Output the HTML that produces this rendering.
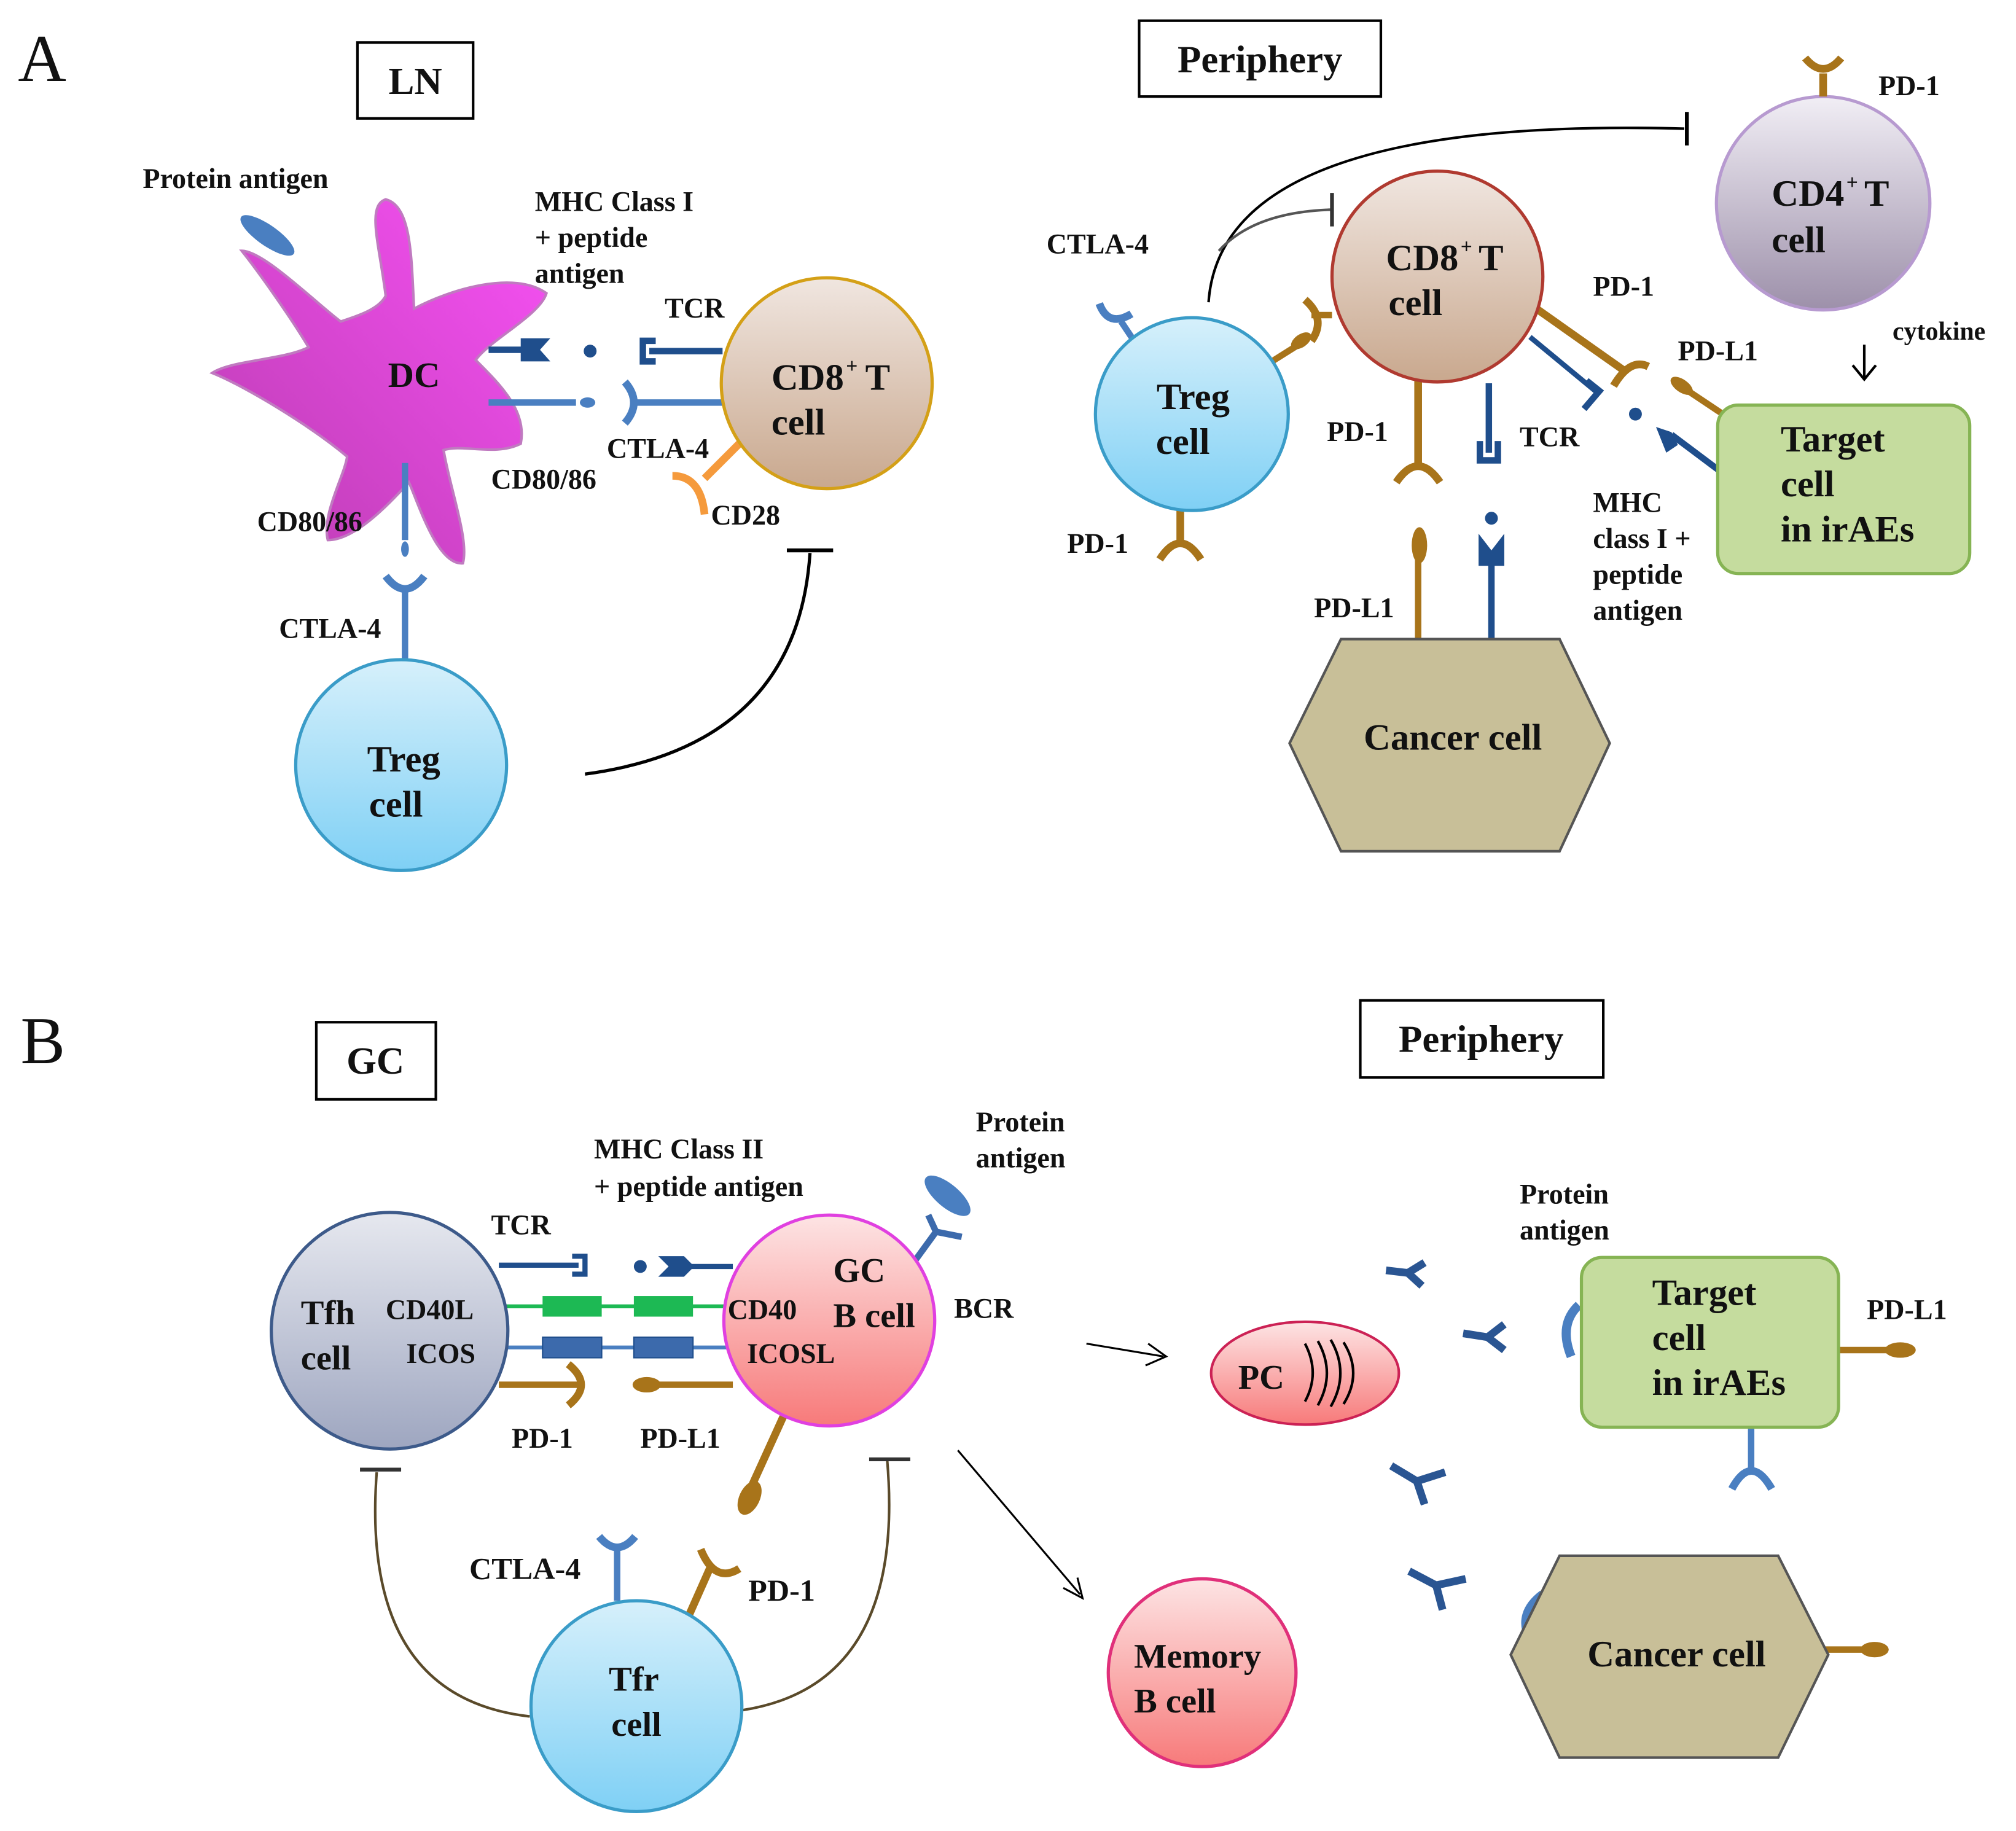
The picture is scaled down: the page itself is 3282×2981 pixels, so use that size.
<!DOCTYPE html>
<html><head><meta charset="utf-8"><style>
html,body{margin:0;padding:0;background:#fff}
svg{display:block}
text{font-family:"Liberation Serif",serif;font-weight:bold;fill:#111}
</style></head><body>
<svg width="3282" height="2981" viewBox="0 0 1568 1424" xmlns="http://www.w3.org/2000/svg">
<defs>
<linearGradient id="beige" x1="0" y1="0" x2="0" y2="1"><stop offset="0" stop-color="#f0e6e0"/><stop offset="1" stop-color="#c9a88e"/></linearGradient>
<linearGradient id="blue" x1="0" y1="0" x2="0" y2="1"><stop offset="0" stop-color="#d6f0fb"/><stop offset="1" stop-color="#7fd0f5"/></linearGradient>
<linearGradient id="purp" x1="0" y1="0" x2="0" y2="1"><stop offset="0" stop-color="#f1eef5"/><stop offset="1" stop-color="#9d90aa"/></linearGradient>
<linearGradient id="gray" x1="0" y1="0" x2="0" y2="1"><stop offset="0" stop-color="#e6e8ef"/><stop offset="1" stop-color="#9ea6c0"/></linearGradient>
<linearGradient id="pink" x1="0" y1="0" x2="0" y2="1"><stop offset="0" stop-color="#fde4e4"/><stop offset="1" stop-color="#f77a7a"/></linearGradient>
<linearGradient id="mag" x1="1" y1="0" x2="0" y2="1"><stop offset="0" stop-color="#f851f5"/><stop offset="1" stop-color="#b93cb0"/></linearGradient>
</defs>

<!-- ===== A ===== -->
<text x="14" y="63" font-size="52" style="font-weight:normal">A</text>
<rect x="278" y="33" width="90" height="59" fill="#fff" stroke="#000" stroke-width="2"/>
<text x="323" y="73" font-size="30" text-anchor="middle">LN</text>
<rect x="886" y="16" width="188" height="59" fill="#fff" stroke="#000" stroke-width="2"/>
<text x="980" y="56" font-size="30" text-anchor="middle">Periphery</text>

<!-- DC -->
<path d="M300,230 C295,190 285,160 300,155 C320,160 320,200 322,240 C350,225 400,210 425,228 C420,245 380,265 370,280 C390,300 410,320 405,345 C385,355 360,345 345,350 C350,380 365,420 360,438 C340,440 325,390 318,375 C300,395 275,420 255,420 C250,400 268,370 270,355 C240,330 190,300 165,290 C180,280 220,280 240,270 C225,245 200,210 188,195 C205,195 245,235 265,250 C280,245 295,240 300,230 Z" fill="url(#mag)" stroke="#c07ac0" stroke-width="2"/>
<text x="322" y="301" font-size="28" text-anchor="middle">DC</text>
<ellipse cx="208" cy="183" rx="25" ry="8" transform="rotate(35 208 183)" fill="#4a7fc1"/>
<text x="111" y="146" font-size="22">Protein antigen</text>
<text x="416" y="164" font-size="22">MHC Class I</text>
<text x="416" y="192" font-size="22">+ peptide</text>
<text x="416" y="220" font-size="22">antigen</text>

<!-- TCR interaction -->
<line x1="380" y1="272" x2="410" y2="272" stroke="#1f4e8c" stroke-width="5"/>
<path d="M405,263 L428,263 L420,272 L428,281 L405,281 Z" fill="#1f4e8c"/>
<circle cx="459" cy="273" r="5" fill="#1f4e8c"/>
<path d="M510,265 L500,265 L500,281 L510,281" fill="none" stroke="#1f4e8c" stroke-width="5"/>
<line x1="505" y1="273" x2="562" y2="273" stroke="#1f4e8c" stroke-width="5"/>
<text x="517" y="247" font-size="22">TCR</text>
<!-- CD80/CTLA4 -->
<line x1="380" y1="313" x2="448" y2="313" stroke="#4a7fc1" stroke-width="5"/>
<ellipse cx="457" cy="313" rx="6" ry="4" fill="#4a7fc1"/>
<path d="M486,297 Q500,313 486,329" fill="none" stroke="#4a7fc1" stroke-width="6"/>
<line x1="495" y1="313" x2="562" y2="313" stroke="#4a7fc1" stroke-width="5"/>
<text x="472" y="356" font-size="22">CTLA-4</text>
<text x="382" y="380" font-size="22">CD80/86</text>
<!-- CD28 -->
<line x1="575" y1="345" x2="548" y2="372" stroke="#f59a3c" stroke-width="6"/>
<path d="M523,370 Q545,370 548,400" fill="none" stroke="#f59a3c" stroke-width="6"/>
<text x="553" y="408" font-size="22">CD28</text>

<circle cx="643" cy="298" r="82" fill="url(#beige)" stroke="#d4a017" stroke-width="2.5"/>
<text x="600" y="303" font-size="29">CD8</text><text x="658" y="290" font-size="16">+</text><text x="673" y="303" font-size="29">T</text>
<text x="600" y="338" font-size="29">cell</text>

<!-- DC to Treg -->
<line x1="315" y1="360" x2="315" y2="420" stroke="#4a7fc1" stroke-width="5"/>
<ellipse cx="315" cy="427" rx="3" ry="6" fill="#4a7fc1"/>
<path d="M300,448 Q315,468 330,448" fill="none" stroke="#4a7fc1" stroke-width="6"/>
<line x1="315" y1="460" x2="315" y2="515" stroke="#4a7fc1" stroke-width="5"/>
<text x="200" y="413" font-size="22">CD80/86</text>
<text x="217" y="496" font-size="22">CTLA-4</text>
<circle cx="312" cy="595" r="82" fill="url(#blue)" stroke="#3a9cc8" stroke-width="2.5"/>
<text x="314" y="600" font-size="29" text-anchor="middle">Treg</text>
<text x="308" y="635" font-size="29" text-anchor="middle">cell</text>
<path d="M455,602 Q620,580 630,430" fill="none" stroke="#000" stroke-width="2.5"/>
<line x1="612" y1="428" x2="648" y2="428" stroke="#000" stroke-width="3"/>

<!-- Periphery A -->
<path d="M940,235 Q950,90 1310,100" fill="none" stroke="#000" stroke-width="2"/>
<line x1="1312" y1="87" x2="1312" y2="113" stroke="#000" stroke-width="3"/>
<path d="M948,195 Q975,165 1035,163" fill="none" stroke="#555" stroke-width="2"/>
<line x1="1036" y1="150" x2="1036" y2="176" stroke="#333" stroke-width="3"/>

<circle cx="1418" cy="158" r="83" fill="url(#purp)" stroke="#b79ad0" stroke-width="2.5"/>
<line x1="1418" y1="75" x2="1418" y2="57" stroke="#a8741a" stroke-width="6"/>
<path d="M1404,45 Q1418,62 1432,45" fill="none" stroke="#a8741a" stroke-width="6"/>
<text x="1461" y="74" font-size="22">PD-1</text>
<text x="1378" y="160" font-size="29">CD4</text><text x="1436" y="147" font-size="16">+</text><text x="1450" y="160" font-size="29">T</text>
<text x="1378" y="196" font-size="29">cell</text>
<text x="1472" y="264" font-size="20">cytokine</text>
<line x1="1450" y1="268" x2="1450" y2="294" stroke="#000" stroke-width="2"/>
<path d="M1441,284 L1450,295 L1459,284" fill="none" stroke="#000" stroke-width="2"/>

<!-- CD8 right -->
<line x1="1190" y1="262" x2="1242" y2="305" stroke="#1f4e8c" stroke-width="4"/>
<path d="M1232,318 L1244,304 L1234,296" fill="none" stroke="#1f4e8c" stroke-width="5"/>
<line x1="1195" y1="240" x2="1263" y2="288" stroke="#a8741a" stroke-width="6"/>
<path d="M1255,300 Q1268,278 1282,285" fill="none" stroke="#a8741a" stroke-width="6"/>
<line x1="1103" y1="295" x2="1103" y2="360" stroke="#a8741a" stroke-width="6"/>
<path d="M1086,375 Q1103,350 1120,375" fill="none" stroke="#a8741a" stroke-width="6"/>
<line x1="1158" y1="298" x2="1158" y2="352" stroke="#1f4e8c" stroke-width="5"/>
<path d="M1151,343 L1151,358 L1165,358 L1165,343" fill="none" stroke="#1f4e8c" stroke-width="5"/>
<line x1="1036" y1="245" x2="1020" y2="245" stroke="#a8741a" stroke-width="5"/>
<path d="M1015,233 Q1032,248 1020,265" fill="none" stroke="#a8741a" stroke-width="6"/>
<circle cx="1118" cy="215" r="82" fill="url(#beige)" stroke="#b03a30" stroke-width="2.5"/>
<text x="1078" y="210" font-size="29">CD8</text><text x="1136" y="197" font-size="16">+</text><text x="1150" y="210" font-size="29">T</text>
<text x="1080" y="245" font-size="29">cell</text>
<text x="1239" y="230" font-size="22">PD-1</text>
<text x="1305" y="280" font-size="22">PD-L1</text>
<text x="1032" y="343" font-size="22">PD-1</text>
<text x="1182" y="347" font-size="22">TCR</text>
<text x="1239" y="398" font-size="22">MHC</text>
<text x="1239" y="426" font-size="22">class I +</text>
<text x="1239" y="454" font-size="22">peptide</text>
<text x="1239" y="482" font-size="22">antigen</text>

<!-- target A -->
<line x1="1340" y1="322" x2="1310" y2="302" stroke="#a8741a" stroke-width="5"/>
<ellipse cx="1308" cy="300" rx="10" ry="5" transform="rotate(35 1308 300)" fill="#a8741a"/>
<line x1="1340" y1="368" x2="1300" y2="338" stroke="#1f4e8c" stroke-width="5"/>
<path d="M1288,332 L1300,336 L1305,346 L1296,352 Z" fill="#1f4e8c"/>
<circle cx="1272" cy="322" r="5" fill="#1f4e8c"/>
<rect x="1336" y="315" width="196" height="131" rx="16" fill="#c5dc9e" stroke="#86b454" stroke-width="2.5"/>
<text x="1385" y="351" font-size="29">Target</text>
<text x="1385" y="386" font-size="29">cell</text>
<text x="1385" y="421" font-size="29">in irAEs</text>

<!-- Treg right -->
<line x1="983" y1="285" x2="1010" y2="268" stroke="#a8741a" stroke-width="5"/>
<ellipse cx="1012" cy="265" rx="9" ry="5" transform="rotate(-35 1012 265)" fill="#a8741a"/>
<line x1="882" y1="265" x2="872" y2="250" stroke="#4a7fc1" stroke-width="5"/>
<path d="M855,236 Q862,255 880,244" fill="none" stroke="#4a7fc1" stroke-width="6"/>
<line x1="918" y1="396" x2="918" y2="425" stroke="#a8741a" stroke-width="6"/>
<path d="M902,435 Q918,410 934,435" fill="none" stroke="#a8741a" stroke-width="6"/>
<circle cx="927" cy="322" r="75" fill="url(#blue)" stroke="#3a9cc8" stroke-width="2.5"/>
<text x="928" y="318" font-size="29" text-anchor="middle">Treg</text>
<text x="920" y="353" font-size="29" text-anchor="middle">cell</text>
<text x="814" y="197" font-size="22">CTLA-4</text>
<text x="830" y="430" font-size="22">PD-1</text>

<!-- cancer A -->
<line x1="1103" y1="430" x2="1103" y2="497" stroke="#a8741a" stroke-width="5"/>
<ellipse cx="1104" cy="424" rx="6" ry="14" fill="#a8741a"/>
<line x1="1160" y1="430" x2="1160" y2="497" stroke="#1f4e8c" stroke-width="5"/>
<path d="M1150,415 L1160,428 L1170,415 L1170,440 L1150,440 Z" fill="#1f4e8c"/>
<circle cx="1160" cy="403" r="5" fill="#1f4e8c"/>
<text x="1022" y="480" font-size="22">PD-L1</text>
<polygon points="1003,578 1043,497 1213,497 1252,578 1213,662 1043,662" fill="#c8bf98" stroke="#555" stroke-width="2"/>
<text x="1130" y="583" font-size="29" text-anchor="middle">Cancer cell</text>

<!-- ===== B ===== -->
<text x="16" y="827" font-size="52" style="font-weight:normal">B</text>
<rect x="246" y="795" width="93" height="60" fill="#fff" stroke="#000" stroke-width="2"/>
<text x="292" y="835" font-size="30" text-anchor="middle">GC</text>
<rect x="1058" y="778" width="189" height="60" fill="#fff" stroke="#000" stroke-width="2"/>
<text x="1152" y="818" font-size="30" text-anchor="middle">Periphery</text>

<text x="462" y="901" font-size="22">MHC Class II</text>
<text x="462" y="930" font-size="22">+ peptide antigen</text>
<text x="759" y="880" font-size="22">Protein</text>
<text x="759" y="908" font-size="22">antigen</text>
<text x="382" y="960" font-size="22">TCR</text>

<line x1="388" y1="984" x2="450" y2="984" stroke="#1f4e8c" stroke-width="4"/>
<path d="M445,977 L455,977 L455,991 L445,991" fill="none" stroke="#1f4e8c" stroke-width="4"/>
<circle cx="498" cy="985" r="5" fill="#1f4e8c"/>
<path d="M512,977 L532,977 L540,985 L532,993 L512,993 L520,985 Z" fill="#1f4e8c"/>
<line x1="536" y1="985" x2="570" y2="985" stroke="#1f4e8c" stroke-width="4"/>
<line x1="392" y1="1016" x2="570" y2="1016" stroke="#1db954" stroke-width="3"/>
<rect x="422" y="1008" width="46" height="16" fill="#1db954"/>
<rect x="493" y="1008" width="46" height="16" fill="#1db954"/>
<line x1="392" y1="1048" x2="570" y2="1048" stroke="#4a7fc1" stroke-width="3"/>
<rect x="422" y="1040" width="46" height="16" fill="#3c6aac" stroke="#1f4e8c"/>
<rect x="493" y="1040" width="46" height="16" fill="#3c6aac" stroke="#1f4e8c"/>
<line x1="388" y1="1077" x2="452" y2="1077" stroke="#a8741a" stroke-width="5"/>
<path d="M442,1061 Q462,1077 442,1093" fill="none" stroke="#a8741a" stroke-width="6"/>
<ellipse cx="503" cy="1077" rx="11" ry="6" fill="#a8741a"/>
<line x1="510" y1="1077" x2="570" y2="1077" stroke="#a8741a" stroke-width="5"/>
<text x="398" y="1126" font-size="22">PD-1</text>
<text x="498" y="1126" font-size="22">PD-L1</text>

<circle cx="303" cy="1035" r="92" fill="url(#gray)" stroke="#3d5a8a" stroke-width="2.5"/>
<text x="234" y="1030" font-size="27">Tfh</text>
<text x="234" y="1065" font-size="27">cell</text>
<text x="300" y="1026" font-size="22">CD40L</text>
<text x="316" y="1060" font-size="22">ICOS</text>

<!-- BCR -->
<ellipse cx="737" cy="930" rx="22" ry="9" transform="rotate(40 737 930)" fill="#4a7fc1"/>
<line x1="712" y1="980" x2="728" y2="958" stroke="#3c6aac" stroke-width="5"/>
<line x1="728" y1="958" x2="722" y2="945" stroke="#3c6aac" stroke-width="5"/>
<line x1="728" y1="958" x2="748" y2="962" stroke="#3c6aac" stroke-width="5"/>
<text x="742" y="1025" font-size="22">BCR</text>
<line x1="610" y1="1100" x2="585" y2="1155" stroke="#a8741a" stroke-width="6"/>
<ellipse cx="583" cy="1165" rx="8" ry="14" transform="rotate(25 583 1165)" fill="#a8741a"/>
<circle cx="645" cy="1027" r="82" fill="url(#pink)" stroke="#e040e0" stroke-width="2.5"/>
<text x="648" y="997" font-size="27">GC</text>
<text x="648" y="1032" font-size="27">B cell</text>
<text x="566" y="1026" font-size="22">CD40</text>
<text x="581" y="1060" font-size="22">ICOSL</text>

<!-- Tfr -->
<line x1="480" y1="1245" x2="480" y2="1205" stroke="#4a7fc1" stroke-width="5"/>
<path d="M466,1195 Q480,1212 494,1195" fill="none" stroke="#4a7fc1" stroke-width="6"/>
<line x1="536" y1="1256" x2="552" y2="1220" stroke="#a8741a" stroke-width="6"/>
<path d="M545,1205 Q556,1232 575,1220" fill="none" stroke="#a8741a" stroke-width="6"/>
<text x="365" y="1228" font-size="24">CTLA-4</text>
<text x="582" y="1245" font-size="24">PD-1</text>
<path d="M293,1145 Q280,1320 412,1335" fill="none" stroke="#5a4a2a" stroke-width="2"/>
<line x1="280" y1="1143" x2="312" y2="1143" stroke="#333" stroke-width="3"/>
<path d="M578,1330 Q705,1310 690,1135" fill="none" stroke="#5a4a2a" stroke-width="2"/>
<line x1="676" y1="1135" x2="708" y2="1135" stroke="#333" stroke-width="3"/>
<circle cx="495" cy="1327" r="82" fill="url(#blue)" stroke="#3a9cc8" stroke-width="2.5"/>
<text x="493" y="1315" font-size="27" text-anchor="middle">Tfr</text>
<text x="495" y="1350" font-size="27" text-anchor="middle">cell</text>

<!-- arrows -->
<line x1="845" y1="1045" x2="905" y2="1055" stroke="#000" stroke-width="1.5"/>
<path d="M893,1045 L907,1055 L891,1062" fill="none" stroke="#000" stroke-width="1.5"/>
<line x1="745" y1="1128" x2="840" y2="1240" stroke="#000" stroke-width="1.5"/>
<path d="M827,1235 L842,1243 L838,1227" fill="none" stroke="#000" stroke-width="1.5"/>

<ellipse cx="1015" cy="1068" rx="73" ry="40" fill="url(#pink)" stroke="#cc2255" stroke-width="2"/>
<text x="963" y="1080" font-size="27">PC</text>
<path d="M1015,1045 Q1027,1068 1015,1090 M1025,1043 Q1039,1068 1025,1093 M1035,1042 Q1050,1068 1035,1094 M1045,1044 Q1060,1068 1045,1092" fill="none" stroke="#000" stroke-width="2"/>
<circle cx="935" cy="1301" r="73" fill="url(#pink)" stroke="#e0307a" stroke-width="2.5"/>
<text x="882" y="1297" font-size="27">Memory</text>
<text x="882" y="1332" font-size="27">B cell</text>

<!-- antibodies -->
<g stroke="#2a5592" stroke-width="6" fill="none">
<path d="M1078,988 L1095,990 M1095,990 L1108,982 M1095,990 L1106,1000"/>
<path d="M1138,1037 L1157,1040 M1157,1040 L1170,1030 M1157,1040 L1170,1050"/>
<path d="M1082,1140 L1102,1152 M1102,1152 L1108,1170 M1102,1152 L1124,1145"/>
<path d="M1096,1222 L1117,1233 M1117,1233 L1122,1252 M1117,1233 L1140,1228"/>
</g>
<path d="M1228,1015 Q1212,1030 1222,1055" fill="none" stroke="#4a7fc1" stroke-width="7"/>
<path d="M1200,1240 Q1180,1255 1190,1275" fill="none" stroke="#4a7fc1" stroke-width="7"/>
<text x="1182" y="936" font-size="22">Protein</text>
<text x="1182" y="964" font-size="22">antigen</text>
<line x1="1430" y1="1050" x2="1478" y2="1050" stroke="#a8741a" stroke-width="5"/>
<ellipse cx="1478" cy="1050" rx="12" ry="6" fill="#a8741a"/>
<text x="1452" y="1026" font-size="22">PD-L1</text>
<line x1="1362" y1="1110" x2="1362" y2="1145" stroke="#4a7fc1" stroke-width="5"/>
<path d="M1347,1158 Q1362,1130 1378,1158" fill="none" stroke="#4a7fc1" stroke-width="6"/>
<rect x="1230" y="978" width="200" height="132" rx="16" fill="#c5dc9e" stroke="#86b454" stroke-width="2.5"/>
<text x="1285" y="1015" font-size="29">Target</text>
<text x="1285" y="1050" font-size="29">cell</text>
<text x="1285" y="1085" font-size="29">in irAEs</text>
<line x1="1420" y1="1283" x2="1458" y2="1283" stroke="#a8741a" stroke-width="5"/>
<ellipse cx="1458" cy="1283" rx="11" ry="6" fill="#a8741a"/>
<polygon points="1175,1287 1213,1210 1383,1210 1422,1287 1383,1367 1213,1367" fill="#c8bf98" stroke="#555" stroke-width="2"/>
<text x="1304" y="1296" font-size="29" text-anchor="middle">Cancer cell</text>
</svg>
</body></html>
